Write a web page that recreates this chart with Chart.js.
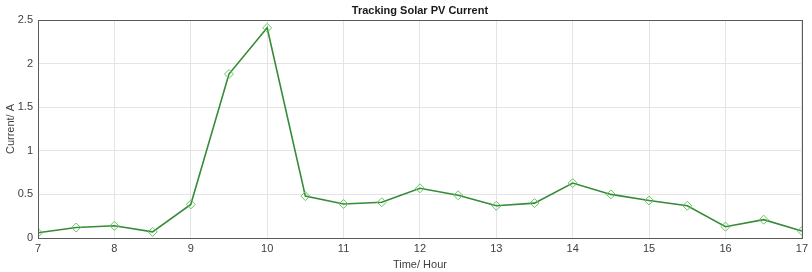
<!DOCTYPE html>
<html>
<head>
<meta charset="utf-8">
<script src="https://cdn.jsdelivr.net/npm/chart.js@4"></script>
<style>
  html, body { margin: 0; padding: 0; background: #fff; }
  #wrap { width: 812px; height: 272px; }
</style>
</head>
<body>
<div id="wrap"><canvas id="myChart"></canvas></div>
<script>
// hours of the day (x) and measured current (y)
var hours = [7, 7.5, 8, 8.5, 9, 9.5, 10, 10.5, 11, 11.5, 12, 12.5, 13, 13.5, 14, 14.5, 15, 15.5, 16, 16.5, 17];
var current = [0.06, 0.12, 0.14, 0.07, 0.385, 1.88, 2.41, 0.48, 0.39, 0.41, 0.57, 0.49, 0.37, 0.40, 0.63, 0.50, 0.43, 0.37, 0.13, 0.21, 0.08];
var xTicks = [7, 8, 9, 10, 11, 12, 13, 14, 15, 16, 17];
var yTicks = [0, 0.5, 1, 1.5, 2, 2.5];

var points = hours.map(function (h, i) { return { x: h, y: current[i] }; });

// MATLAB-like box around the axes plus the title centred over the plot
var boxPlugin = {
    id: 'box',
    afterDraw: function (chart) {
        var a = chart.chartArea, c = chart.ctx;
        c.save();
        c.strokeStyle = '#5a5a5a';
        c.lineWidth = 1;
        c.strokeRect(Math.round(a.left) + 0.5, Math.round(a.top) + 0.5,
            Math.round(a.right - a.left), Math.round(a.bottom - a.top));
        c.fillStyle = '#1a1a1a';
        c.font = 'bold 11px "Liberation Sans", Arial, sans-serif';
        c.textAlign = 'center';
        c.textBaseline = 'middle';
        c.fillText('Tracking Solar PV Current', (a.left + a.right) / 2, 11);
        c.restore();
    }
};

var ctx = document.getElementById('myChart').getContext('2d');
Chart.defaults.font.family = '"Liberation Sans", Arial, sans-serif';
Chart.defaults.font.size = 11;
Chart.defaults.color = '#404040';

var myChart = new Chart(ctx, {
    type: 'line',
    data: {
        datasets: [{
            data: points,
            borderColor: '#378a37',
            borderWidth: 1.6,
            pointStyle: 'rectRot',
            pointRadius: 4.5,
            pointBorderWidth: 1,
            pointBorderColor: '#62c862',
            pointBackgroundColor: 'rgba(0,0,0,0)',
            tension: 0,
            fill: false
        }]
    },
    options: {
        responsive: true,
        maintainAspectRatio: false,
        animation: false,
        layout: { padding: { top: 20, right: 8, left: 4, bottom: 0 } },
        plugins: {
            legend: { display: false },
            tooltip: { enabled: false },
            title: { display: false }
        },
        scales: {
            x: {
                type: 'linear',
                min: 7,
                max: 17,
                afterBuildTicks: function (scale) {
                    scale.ticks = xTicks.map(function (v) { return { value: v }; });
                },
                afterFit: function (scale) { scale.height = 34; },
                ticks: {
                    callback: function (v) { return String(v); },
                    padding: 4,
                    maxRotation: 0
                },
                grid: { color: '#e4e4e4', drawTicks: false },
                border: { color: '#5a5a5a' },
                title: {
                    display: true,
                    text: 'Time/ Hour',
                    color: '#404040',
                    font: { size: 11 },
                    padding: { top: 0, bottom: 0 }
                }
            },
            y: {
                min: 0,
                max: 2.5,
                afterBuildTicks: function (scale) {
                    scale.ticks = yTicks.map(function (v) { return { value: v }; });
                },
                afterFit: function (scale) { scale.width = 34; },
                ticks: {
                    callback: function (v) { return String(v); },
                    padding: 5
                },
                grid: { color: '#e4e4e4', drawTicks: false },
                border: { color: '#5a5a5a' },
                title: {
                    display: true,
                    text: 'Current/ A',
                    color: '#404040',
                    font: { size: 11 },
                    padding: { top: 0, bottom: 0 }
                }
            }
        }
    },
    plugins: [boxPlugin]
});
</script>
</body>
</html>
